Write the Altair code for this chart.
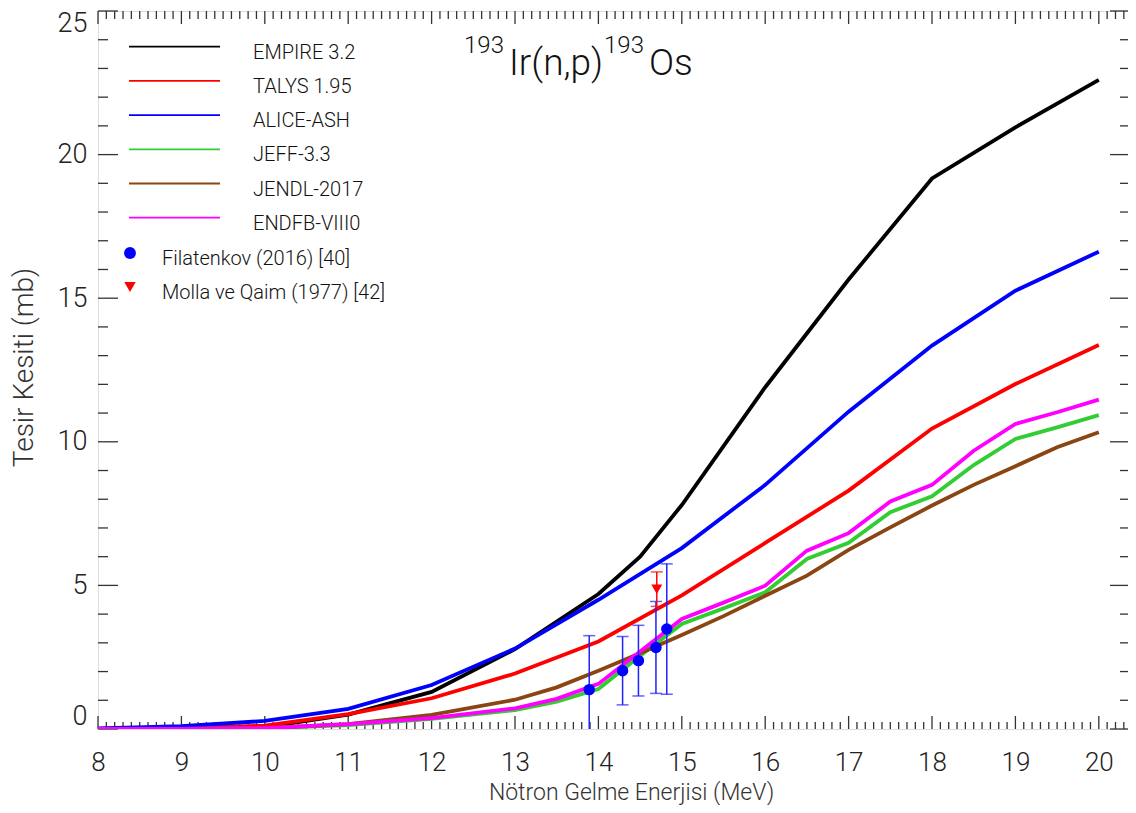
import altair as alt
import numpy as np
import pandas as pd

FONT = "Roboto"

# ---------------- data ----------------
E_int = [8, 9, 10, 11, 12, 13, 14, 15, 16, 17, 18, 19, 20]
E_empire = [8, 9, 10, 11, 12, 13, 14, 14.5, 15, 16, 17, 18, 19, 20]
empire = [0.0, 0.01, 0.07, 0.5, 1.29, 2.78, 4.7, 6.0, 7.8, 11.9, 15.65, 19.17, 20.95, 22.6]
talys = [0.0, 0.03, 0.12, 0.52, 1.07, 1.93, 3.05, 4.65, 6.48, 8.3, 10.46, 12.01, 13.37]
alice = [0.02, 0.1, 0.28, 0.7, 1.53, 2.8, 4.5, 6.3, 8.5, 11.05, 13.35, 15.26, 16.62]

E_eval = [8, 9, 10, 11, 12, 13, 13.5, 14, 14.5, 15, 15.5, 16, 16.5, 17, 17.5, 18, 18.5, 19, 19.5, 20]
jeff = [0.0, 0.0, 0.02, 0.14, 0.35, 0.66, 0.95, 1.39, 2.55, 3.66, 4.2, 4.76, 5.92, 6.48, 7.55, 8.1, 9.19, 10.1, 10.5, 10.93]
jendl = [0.0, 0.0, 0.03, 0.17, 0.49, 1.02, 1.45, 2.03, 2.64, 3.27, 3.93, 4.64, 5.34, 6.24, 7.02, 7.78, 8.5, 9.15, 9.81, 10.33]
endf = [0.0, 0.0, 0.03, 0.17, 0.38, 0.72, 1.05, 1.57, 2.7, 3.83, 4.4, 4.99, 6.21, 6.82, 7.92, 8.5, 9.69, 10.62, 11.03, 11.47]

fil_E = [13.89, 14.29, 14.48, 14.69, 14.82]
fil_v = [1.37, 2.03, 2.38, 2.84, 3.48]
fil_err = [1.88, 1.19, 1.23, 1.60, 2.27]

mol_E = [14.7]
mol_v = [4.87]
mol_err = [0.6]

series_names = ["EMPIRE 3.2", "TALYS 1.95", "ALICE-ASH", "JEFF-3.3", "JENDL-2017", "ENDFB-VIII0"]
series_colors = ["#000000", "#ff0000", "#0000ff", "#33cc33", "#8b4513", "#ff00ff"]
exp_names = ["Filatenkov (2016) [40]", "Molla ve Qaim (1977) [42]"]

x_major = list(range(8, 21))
y_major = [0, 5, 10, 15, 20, 25]

# ---------------- layout ----------------
W, H = 1030, 718
XDOM = [8, 20.35]
YDOM = [0, 25]
xs = alt.Scale(domain=XDOM, nice=False, zero=False)
ys = alt.Scale(domain=YDOM, nice=False, zero=False)

series_data = {
    "EMPIRE 3.2": (E_empire, empire),
    "TALYS 1.95": (E_int, talys),
    "ALICE-ASH": (E_int, alice),
    "JEFF-3.3": (E_eval, jeff),
    "JENDL-2017": (E_eval, jendl),
    "ENDFB-VIII0": (E_eval, endf),
}
draw_order = ["EMPIRE 3.2", "TALYS 1.95", "ALICE-ASH", "JEFF-3.3", "JENDL-2017", "ENDFB-VIII0"]
color_of = dict(zip(series_names, series_colors))

layers = []

# axes (labels + titles only; frame drawn by view stroke)
base_axis = alt.Chart(pd.DataFrame({"E": [8.0], "v": [0.0]})).mark_point(opacity=0).encode(
    x=alt.X("E:Q", scale=xs, axis=alt.Axis(
        values=x_major, format="d", ticks=False, tickSize=0, domain=False, grid=False,
        labelFont=FONT, labelFontSize=26, labelFontWeight=300, labelColor="#222",
        labelBaseline="alphabetic", labelPadding=41, labelFlush=False,
        title="Nötron Gelme Enerjisi (MeV)", titleFont=FONT, titleFontSize=23,
        titleFontWeight=300, titleColor="#333", titleX=533, titleY=70,
        titleBaseline="alphabetic", titleAlign="center")),
    y=alt.Y("v:Q", scale=ys, axis=alt.Axis(
        values=y_major, format="d", ticks=False, tickSize=0, domain=False, grid=False,
        labelFont=FONT, labelFontSize=27, labelFontWeight=300, labelColor="#222",
        labelPadding=11, labelFlush=True, labelFlushOffset=1,
        title="Tesir Kesiti (mb)", titleFont=FONT, titleFontSize=28,
        titleFontWeight=300, titleColor="#333", titleX=-74, titleY=356,
        titleAngle=-90, titleAlign="center", titleBaseline="middle")),
)
layers.append(base_axis)

# inward ticks
xt = np.round(np.arange(8.0, 20.351, 0.1), 2)
x_minor = [v for v in xt if abs(v - round(v)) > 1e-6]
y_minor = [v for v in range(0, 26) if v % 5 != 0]
dfxM = pd.DataFrame({"t": x_major})
dfxm = pd.DataFrame({"t": x_minor})
dfyM = pd.DataFrame({"t": y_major})
dfym = pd.DataFrame({"t": y_minor})
tick_col = "#333333"

def xticks(df, y0, y1):
    return alt.Chart(df).mark_rule(color=tick_col, strokeWidth=1.3).encode(
        x=alt.X("t:Q", scale=xs), y=alt.value(y0), y2=alt.value(y1))

def yticks(df, x0, x1):
    return alt.Chart(df).mark_rule(color=tick_col, strokeWidth=1.3).encode(
        y=alt.Y("t:Q", scale=ys), x=alt.value(x0), x2=alt.value(x1))

layers += [
    xticks(dfxM, H, H - 13), xticks(dfxm, H, H - 7),
    xticks(dfxM, 0, 13), xticks(dfxm, 0, 8),
    yticks(dfyM, 0, 20), yticks(dfym, 0, 10),
    yticks(dfyM, W, W - 18), yticks(dfym, W, W - 8),
]

# model / evaluation curves
for name in draw_order:
    e, v = series_data[name]
    df = pd.DataFrame({"E": e, "v": v})
    layers.append(alt.Chart(df).mark_line(color=color_of[name], strokeWidth=3.8,
                                          strokeJoin="miter", clip=True).encode(
        x=alt.X("E:Q", scale=xs), y=alt.Y("v:Q", scale=ys), order="E:Q"))

# experimental data
fil = pd.DataFrame({"E": fil_E, "v": fil_v, "err": fil_err})
fil["lo"] = fil["v"] - fil["err"]
fil["hi"] = fil["v"] + fil["err"]
mol = pd.DataFrame({"E": mol_E, "v": mol_v, "err": mol_err})
mol["lo"] = mol["v"] - mol["err"]
mol["hi"] = mol["v"] + mol["err"]

for df, col in [(fil, "#2020ff"), (mol, "#ff0000")]:
    layers.append(alt.Chart(df).mark_rule(color=col, strokeWidth=1.5, clip=True).encode(
        x=alt.X("E:Q", scale=xs), y=alt.Y("lo:Q", scale=ys), y2="hi:Q"))
    for f in ["lo", "hi"]:
        layers.append(alt.Chart(df).mark_tick(color=col, orient="horizontal", size=12,
                                              thickness=1.5, clip=True).encode(
            x=alt.X("E:Q", scale=xs), y=alt.Y(f + ":Q", scale=ys)))

layers.append(alt.Chart(fil).mark_point(shape="circle", filled=True, size=130,
                                        color="#0000ff", opacity=1).encode(
    x=alt.X("E:Q", scale=xs), y=alt.Y("v:Q", scale=ys)))
layers.append(alt.Chart(mol).mark_point(shape="triangle-down", filled=True, size=120,
                                        color="#ff0000", opacity=1).encode(
    x=alt.X("E:Q", scale=xs), y=alt.Y("v:Q", scale=ys)))

# legend (drawn inside the plot)
one = pd.DataFrame({"a": [0]})
row0, dy = 35.7, 34.2
for i, (name, col) in enumerate(zip(series_names, series_colors)):
    yy = row0 + i * dy
    layers.append(alt.Chart(one).mark_rule(color=col, strokeWidth=1.8).encode(
        x=alt.value(31), x2=alt.value(122), y=alt.value(yy)))
    layers.append(alt.Chart(one).mark_text(text=name, font=FONT, fontSize=20, fontWeight=300,
                                           color="#111", align="left", baseline="middle").encode(
        x=alt.value(155), y=alt.value(yy + 6)))

layers.append(alt.Chart(one).mark_point(shape="circle", filled=True, size=140,
                                        color="#0000ff", opacity=1).encode(
    x=alt.value(32), y=alt.value(242)))
layers.append(alt.Chart(one).mark_point(shape="triangle-down", filled=True, size=130,
                                        color="#ff0000", opacity=1).encode(
    x=alt.value(32), y=alt.value(276)))
for name, yy in zip(exp_names, [248, 282]):
    layers.append(alt.Chart(one).mark_text(text=name, font=FONT, fontSize=20, fontWeight=300,
                                           color="#111", align="left", baseline="middle").encode(
        x=alt.value(64), y=alt.value(yy)))

# reaction title (superscripted mass numbers)
title_parts = [("193", 24, 366, 42), ("Ir(n,p)", 37, 411, 64),
               ("193", 24, 506, 42), ("Os", 37, 551, 64)]
for txt, fs, xx, yy in title_parts:
    layers.append(alt.Chart(one).mark_text(text=txt, font=FONT, fontSize=fs, fontWeight=300,
                                           color="#111", align="left", baseline="alphabetic").encode(
        x=alt.value(xx), y=alt.value(yy)))

chart = alt.layer(*layers).properties(
    width=W, height=H,
    padding={"left": 90, "top": 3, "right": 0, "bottom": 76},
    autosize=alt.AutoSizeParams(type="none"),
).configure_view(stroke="#333333", strokeWidth=2).configure(background="white")

chart.save("out.html", embed_options={"renderer": "svg", "actions": False})
